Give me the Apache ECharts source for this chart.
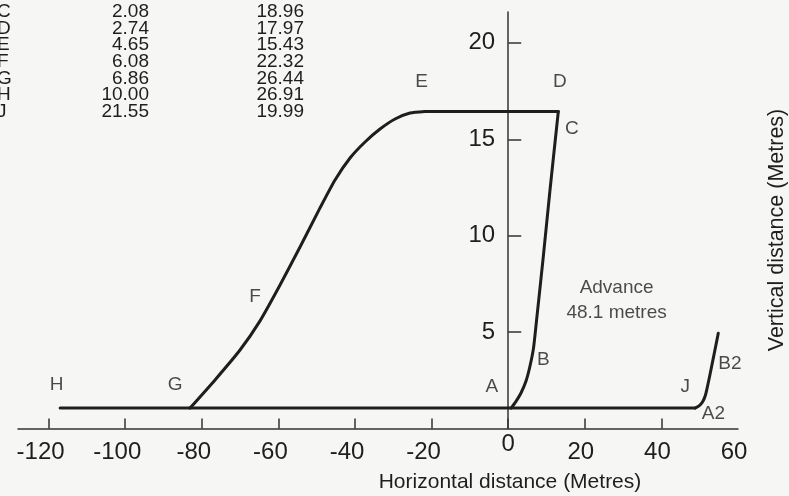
<!DOCTYPE html>
<html>
<head>
<meta charset="utf-8">
<script src="https://cdn.jsdelivr.net/npm/echarts@6/dist/echarts.min.js"></script>
<style>
html,body{margin:0;padding:0;background:#f6f6f4;}
#chart{width:789px;height:496px;}
</style>
</head>
<body>
<div id="chart"></div>
<script>
// ---- data ----
var tableLetters = ['C','D','E','F','G','H','J'];
var tableCol1 = ['2.08','2.74','4.65','6.08','6.86','10.00','21.55'];
var tableCol2 = ['18.96','17.97','15.43','22.32','26.44','26.91','19.99'];

var xTickValues = [-120,-100,-80,-60,-40,-20,0,20,40];
var xLabelValues = [-120,-100,-80,-60,-40,-20,0,20,40,60];
var yTickValues = [5,10,15,20];

var baseline = [[-117.0,1.06],[48.77,1.06]];
var rampGE = [[-83.08,1.06],[-76.55,2.52],[-70.03,4.07],[-64.8,5.58],[-59.58,7.44],[-54.36,9.41],[-49.14,11.44],[-45.22,12.89],[-41.3,14.03],[-37.39,14.86],[-33.47,15.53],[-29.55,16.05],[-25.64,16.36],[-21.72,16.44]];
var crownEC = [[-21.72,16.44],[13.08,16.44]];
var faceCA = [[13.08,16.44],[10.91,12.37],[9.16,8.91],[7.52,5.84],[6.61,4.18],[5.69,3.24],[4.65,2.46],[3.34,1.84],[1.91,1.37],[0.73,1.06]];
var faceA2B2 = [[48.77,1.06],[49.82,1.17],[50.73,1.37],[51.51,1.74],[52.17,2.31],[52.82,2.93],[53.99,4.08],[54.85,4.94]];

var pointLabels = [
  {name:'E', value:[-22.6,17.99]},
  {name:'D', value:[13.5,17.99]},
  {name:'C', value:[16.6,15.57]},
  {name:'F', value:[-66.1,6.84]},
  {name:'G', value:[-87.0,2.26]},
  {name:'H', value:[-117.9,2.26]},
  {name:'A', value:[-4.3,2.17]},
  {name:'B', value:[9.2,3.55]},
  {name:'J', value:[46.2,2.17]},
  {name:'B2', value:[57.9,3.38]},
  {name:'A2', value:[53.6,0.79]},
  {name:'Advance\n48.1 metres', value:[28.3,6.66]}
];

// ---- chart ----
var FONT = '"Liberation Sans", Arial, Helvetica, sans-serif';
var INK = '#1e1e1e';
var chart = echarts.init(document.getElementById('chart'), null, {renderer:'canvas'});

function lineSeries(data, smooth){
  return {type:'line', data:data, smooth:smooth, showSymbol:false, symbol:'none', silent:true,
    lineStyle:{color:INK, width:3, join:'round', cap:'round'}, z:3, animation:false};
}

var graphics = [];
for (var i = 0; i < tableLetters.length; i++) {
  var yy = 11.7 + i*16.7;
  graphics.push({type:'text', x:-3, y:yy, style:{text:tableLetters[i], fill:INK, font:'19px '+FONT, align:'left', verticalAlign:'middle'}});
  graphics.push({type:'text', x:149, y:yy, style:{text:tableCol1[i], fill:INK, font:'19px '+FONT, align:'right', verticalAlign:'middle'}});
  graphics.push({type:'text', x:304, y:yy, style:{text:tableCol2[i], fill:INK, font:'19px '+FONT, align:'right', verticalAlign:'middle'}});
}
graphics.push({type:'text', x:510, y:482, style:{text:'Horizontal distance (Metres)', fill:INK, font:'21px '+FONT, align:'center', verticalAlign:'middle'}});
graphics.push({type:'text', x:777, y:230, rotation:Math.PI/2, style:{text:'Vertical distance (Metres)', fill:INK, font:'21.5px '+FONT, align:'center', verticalAlign:'middle'}});

var GRID_LEFT = 18;
var option = {
  backgroundColor:'#f6f6f4',
  animation:false,
  grid:{left:GRID_LEFT, right:51, top:12, bottom:67.5, containLabel:false, outerBoundsMode:'none'},
  xAxis:{
    type:'value', min:-128, max:60,
    axisLine:{show:true, onZero:true, lineStyle:{color:'#333', width:1.5}},
    axisTick:{show:true, inside:true, length:10, customValues:xTickValues, lineStyle:{color:'#333', width:1.5}},
    axisLabel:{show:true, customValues:xLabelValues, margin:12, fontSize:24, color:INK, fontFamily:FONT,
      formatter:function(v){ v = Math.round(v); if (v === 0) return '{z|0}'; return v < 0 ? '{n|' + v + '}' : '{p|' + v + '}'; },
      rich:{
        n:{fontSize:24, fontFamily:FONT, color:INK, padding:[0,16,0,0]},
        p:{fontSize:24, fontFamily:FONT, color:INK, padding:[0,8,0,0]},
        z:{fontSize:24, fontFamily:FONT, color:INK, lineHeight:8}
      }},
    splitLine:{show:false}
  },
  yAxis:{
    type:'value', min:0, max:21.6, position:'left',
    axisLine:{show:true, onZero:false, lineStyle:{color:'#333', width:1.5}},
    axisTick:{show:true, inside:true, length:13, customValues:yTickValues, lineStyle:{color:'#333', width:1.5}},
    axisLabel:{show:true, customValues:yTickValues, margin:13, fontSize:24, color:INK, fontFamily:FONT},
    splitLine:{show:false}
  },
  series:[
    lineSeries(baseline, false),
    lineSeries(rampGE, 0.2),
    lineSeries(crownEC, false),
    lineSeries(faceCA, 0.2),
    lineSeries(faceA2B2, 0.2),
    {type:'scatter', data:pointLabels, symbolSize:0, silent:true, z:4,
      label:{show:true, position:'inside', formatter:function(p){return p.name;}, color:INK, fontSize:19, fontFamily:FONT, lineHeight:25}}
  ],
  graphic:graphics
};
chart.setOption(option);
// place the vertical axis on x = 0 using the x scale
var zeroPx = chart.convertToPixel({xAxisIndex:0}, 0);
var leftPx = chart.convertToPixel({xAxisIndex:0}, -128);
chart.setOption({yAxis:{offset:-(zeroPx - leftPx)}});
</script>
</body>
</html>
